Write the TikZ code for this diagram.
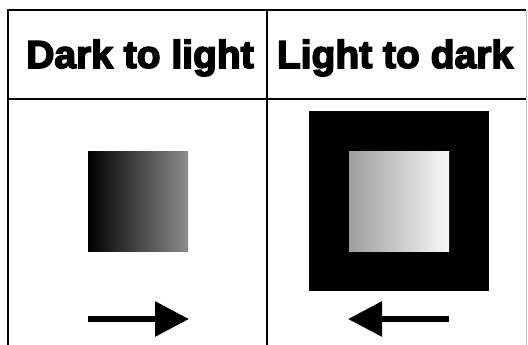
\documentclass[tikz,border=0pt]{standalone}
\usepackage{fontspec}
\setmainfont{Liberation Sans}
\newfontfamily\headfont{Liberation Sans}[UprightFont=*-Bold,UprightFeatures={FakeBold=4}]
\usetikzlibrary{arrows.meta}
\begin{document}
\begin{tikzpicture}[x=1pt,y=-1pt,
  rule/.style={line width=2.6pt,black},
  head/.style={font=\fontsize{39}{39}\headfont,anchor=base,inner sep=0pt},
  bigarrow/.style={line width=6pt,-{Triangle[length=34pt,width=34pt]}},
  sq/.style={draw=none,inner sep=0pt,minimum width=100pt,minimum height=100pt}]
\useasboundingbox (0,0) rectangle (528,345);
% table
\coordinate (tl) at (8,10);
\coordinate (tr) at (526,10);
\coordinate (tm) at (267,10);
\coordinate (bl) at (8,345);
\coordinate (bm) at (267,345);
\coordinate (br) at (526,345);
\coordinate (hl) at (8,99);
\coordinate (hr) at (526,99);
\draw[rule] (bl) -- (tl) -- (tr);
\draw[rule] (tm) -- (bm);
\draw[rule] (hl) -- (hr);
\draw[line width=1pt,black!25] (tr) -- (br);
% headers
\node[head] (h1) at (140,68) {Dark to light};
\node[head] (h2) at (395,68) {Light to dark};
% left square
\node[sq,left color=black,right color=black!45] (s1) at (138,201) {};
% right
\fill[black] (309,111) rectangle (489,291);
\node[sq,left color=black!38,right color=black!3] (s2) at (399,201) {};
% arrows
\coordinate (a1s) at (88,319);
\coordinate (a1e) at (189,319);
\coordinate (a2s) at (449,319);
\coordinate (a2e) at (348,319);
\draw[bigarrow] (a1s) -- (a1e);
\draw[bigarrow] (a2s) -- (a2e);
\end{tikzpicture}
\end{document}
